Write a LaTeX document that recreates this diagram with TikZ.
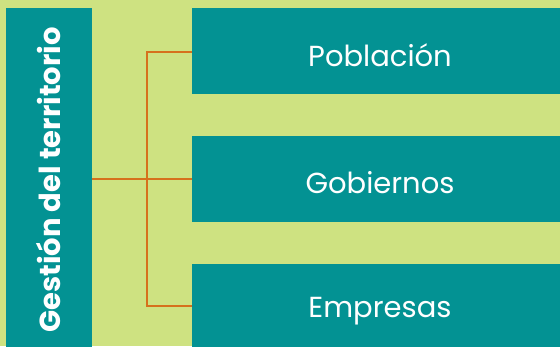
\documentclass[tikz,border=0pt]{standalone}
\usepackage{fontspec}
\setmainfont{Poppins}
\definecolor{bggreen}{HTML}{CEE281}
\definecolor{teal}{HTML}{039293}
\definecolor{conn}{HTML}{D6711C}
\begin{document}
\begin{tikzpicture}[x=1pt,y=-1pt,
  box/.style={fill=teal,draw=none,minimum width=368pt,minimum height=86pt,inner sep=0pt,anchor=north west},
  lbl/.style={text=white,font=\fontsize{29}{34}\selectfont},
  link/.style={draw=conn,line width=1.3pt}]
\path[use as bounding box,fill=bggreen] (0,0) rectangle (560,346);
\begin{scope}
\clip (0,0) rectangle (560,346);
\node[fill=teal,minimum width=86pt,minimum height=350pt,inner sep=0pt,anchor=north west] (bar) at (6,8) {};
\node[box] (b1) at (192,8) {};
\node[box] (b2) at (192,136) {};
\node[box] (b3) at (192,264) {};
\end{scope}
\node[text=white,rotate=90,font=\bfseries\fontsize{29}{34}\selectfont] (title) at (49,180) {Gestión del territorio};
\node[lbl] (t1) at (380,55) {Población};
\node[lbl] (t2) at (380,183) {Gobiernos};
\node[lbl] (t3) at (380,311) {Empresas};
\coordinate (j) at (147,179);
\coordinate (barr) at (92,179);
\draw[link] (barr) -- (j);
\draw[link] (b1.west |- 0,52) -| (147,306) -- (b3.west |- 0,306);
\draw[link] (j) -- (b2.west |- j);
\end{tikzpicture}
\end{document}
